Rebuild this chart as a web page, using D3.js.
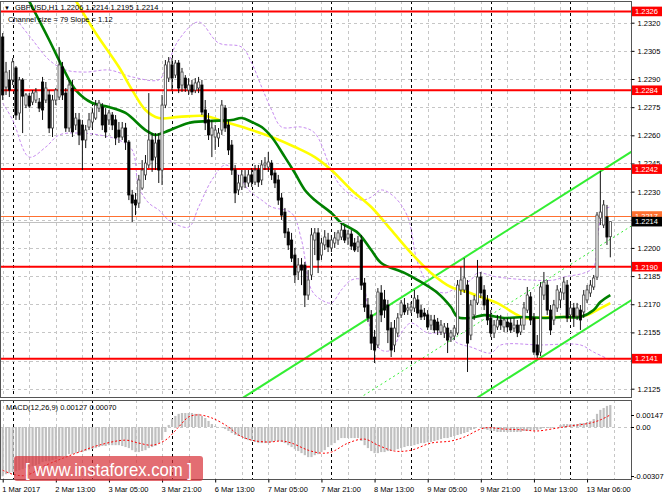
<!DOCTYPE html>
<html>
<head>
<meta charset="utf-8">
<script src="https://cdn.jsdelivr.net/npm/d3@7"></script>
<style>
  body { margin: 0; background: #fff; }
  svg { display: block; }
  text { font-family: "Liberation Sans", Arial, sans-serif; }
</style>
</head>
<body>
<svg id="chart" width="664" height="498"></svg>
<script>
// GBPUSD H1 candles, [open, high, low, close]
var candles = [
  [1.23124,1.23145,1.22788,1.22815],[1.22857,1.22991,1.22815,1.22937],[1.22895,1.22948,1.22804,1.22841],[1.22895,1.23012,1.22868,1.22991],
  [1.22959,1.22969,1.22682,1.22708],[1.22719,1.22911,1.22682,1.22895],[1.22895,1.22905,1.22612,1.22809],[1.22761,1.22825,1.22745,1.22815],
  [1.22809,1.22825,1.22745,1.22756],[1.22777,1.22841,1.22761,1.22825],[1.22788,1.22852,1.22772,1.22831],[1.22777,1.22799,1.22724,1.22745],
  [1.22884,1.22911,1.22682,1.22735],[1.22788,1.22884,1.22772,1.22852],[1.22815,1.22841,1.22612,1.22639],[1.22639,1.22815,1.22591,1.22788],
  [1.22788,1.22852,1.22761,1.22841],[1.22804,1.23070,1.22788,1.22975],[1.22964,1.22991,1.22788,1.22815],[1.22825,1.22852,1.22618,1.22639],
  [1.22639,1.22895,1.22618,1.22868],[1.22852,1.22895,1.22591,1.22618],[1.22655,1.22719,1.22628,1.22692],[1.22682,1.22719,1.22548,1.22602],
  [1.22655,1.22682,1.22415,1.22575],[1.22575,1.22655,1.22532,1.22628],[1.22644,1.22719,1.22628,1.22682],[1.22671,1.22745,1.22639,1.22719],
  [1.22692,1.22788,1.22682,1.22761],[1.22745,1.22788,1.22724,1.22772],[1.22751,1.22772,1.22628,1.22655],[1.22708,1.22745,1.22586,1.22618],
  [1.22682,1.22735,1.22655,1.22719],[1.22708,1.22724,1.22628,1.22655],[1.22682,1.22708,1.22548,1.22586],[1.22628,1.22671,1.22559,1.22591],
  [1.22591,1.22671,1.22575,1.22639],[1.22639,1.22666,1.22522,1.22564],[1.22564,1.22575,1.22255,1.22282],[1.22282,1.22309,1.22138,1.22239],
  [1.22255,1.22293,1.22175,1.22229],[1.22239,1.22389,1.22213,1.22362],[1.22319,1.22468,1.22309,1.22415],[1.22389,1.22495,1.22362,1.22452],
  [1.22442,1.22825,1.22426,1.22575],[1.22575,1.22612,1.22405,1.22468],[1.22484,1.22612,1.22415,1.22559],[1.22575,1.22612,1.22346,1.22415],
  [1.22415,1.22815,1.22335,1.22761],[1.22761,1.23001,1.22745,1.22975],[1.22905,1.23017,1.22884,1.22991],[1.22975,1.23012,1.22841,1.22905],
  [1.22921,1.23001,1.22905,1.22985],[1.22985,1.23001,1.22825,1.22852],[1.22868,1.22959,1.22831,1.22937],[1.22905,1.22921,1.22831,1.22852],
  [1.22841,1.22905,1.22815,1.22868],[1.22868,1.22895,1.22815,1.22831],[1.22841,1.22905,1.22825,1.22879],[1.22852,1.22911,1.22825,1.22884],
  [1.22868,1.22895,1.22708,1.22724],[1.22735,1.22788,1.22628,1.22666],[1.22682,1.22719,1.22575,1.22602],[1.22602,1.22682,1.22484,1.22639],
  [1.22591,1.22655,1.22522,1.22628],[1.22586,1.22639,1.22538,1.22612],[1.22628,1.22788,1.22602,1.22761],[1.22745,1.22761,1.22618,1.22639],
  [1.22655,1.22682,1.22495,1.22522],[1.22548,1.22575,1.22389,1.22415],[1.22415,1.22442,1.22239,1.22293],[1.22309,1.22389,1.22282,1.22346],
  [1.22325,1.22415,1.22309,1.22389],[1.22378,1.22415,1.22319,1.22351],[1.22346,1.22415,1.22325,1.22389],[1.22389,1.22426,1.22325,1.22351],
  [1.22351,1.22442,1.22335,1.22415],[1.22415,1.22442,1.22325,1.22351],[1.22362,1.22468,1.22335,1.22442],[1.22442,1.22484,1.22415,1.22452],
  [1.22431,1.22511,1.22405,1.22458],[1.22452,1.22468,1.22362,1.22389],[1.22399,1.22415,1.22319,1.22346],[1.22362,1.22389,1.22229,1.22255],
  [1.22266,1.22293,1.22149,1.22175],[1.22191,1.22213,1.22053,1.22080],[1.22085,1.22106,1.21989,1.22016],[1.22042,1.22080,1.21925,1.21946],
  [1.21962,1.22000,1.21813,1.21856],[1.21872,1.21946,1.21829,1.21909],[1.21909,1.21946,1.21802,1.21882],[1.21909,1.21925,1.21685,1.21749],
  [1.21749,1.21882,1.21723,1.21829],[1.21856,1.22106,1.21829,1.22069],[1.22042,1.22106,1.21962,1.22080],[1.22080,1.22106,1.21866,1.21936],
  [1.21962,1.22053,1.21936,1.22026],[1.22016,1.22095,1.21989,1.22058],[1.22042,1.22080,1.21978,1.22005],[1.22000,1.22069,1.21978,1.22042],
  [1.22026,1.22085,1.22000,1.22053],[1.22042,1.22095,1.22016,1.22080],[1.22058,1.22133,1.22042,1.22095],[1.22095,1.22122,1.22026,1.22042],
  [1.22053,1.22095,1.22016,1.22074],[1.22074,1.22095,1.21989,1.22010],[1.22026,1.22053,1.21978,1.21989],[1.22005,1.22064,1.21978,1.22032],
  [1.22042,1.22069,1.21776,1.21802],[1.21813,1.21840,1.21659,1.21685],[1.21696,1.21733,1.21605,1.21627],[1.21643,1.21669,1.21456,1.21493],
  [1.21525,1.21563,1.21387,1.21456],[1.21483,1.21786,1.21467,1.21765],[1.21760,1.21802,1.21605,1.21643],[1.21723,1.21776,1.21627,1.21669],
  [1.21696,1.21723,1.21493,1.21563],[1.21573,1.21605,1.21419,1.21456],[1.21483,1.21616,1.21445,1.21573],[1.21547,1.21653,1.21525,1.21627],
  [1.21643,1.21723,1.21627,1.21707],[1.21696,1.21733,1.21643,1.21659],[1.21669,1.21707,1.21643,1.21680],[1.21669,1.21712,1.21653,1.21685],
  [1.21680,1.21776,1.21659,1.21733],[1.21723,1.21749,1.21627,1.21653],[1.21669,1.21696,1.21616,1.21632],[1.21653,1.21680,1.21616,1.21637],
  [1.21643,1.21669,1.21563,1.21579],[1.21589,1.21643,1.21563,1.21616],[1.21616,1.21643,1.21547,1.21563],[1.21605,1.21627,1.21536,1.21563],
  [1.21552,1.21616,1.21536,1.21589],[1.21547,1.21600,1.21520,1.21579],[1.21573,1.21600,1.21440,1.21509],[1.21525,1.21563,1.21499,1.21547],
  [1.21531,1.21589,1.21509,1.21573],[1.21547,1.21829,1.21536,1.21802],[1.21776,1.21898,1.21749,1.21829],[1.21776,1.21946,1.21760,1.21840],
  [1.21802,1.21829,1.21339,1.21493],[1.21536,1.21723,1.21509,1.21696],[1.21643,1.21749,1.21616,1.21723],[1.21707,1.21936,1.21696,1.21845],
  [1.21845,1.21872,1.21733,1.21760],[1.21776,1.21802,1.21669,1.21696],[1.21723,1.21749,1.21589,1.21616],[1.21627,1.21669,1.21525,1.21547],
  [1.21547,1.21616,1.21520,1.21589],[1.21579,1.21643,1.21563,1.21616],[1.21616,1.21643,1.21563,1.21589],[1.21579,1.21627,1.21552,1.21616],
  [1.21605,1.21627,1.21552,1.21579],[1.21600,1.21627,1.21547,1.21563],[1.21573,1.21627,1.21552,1.21589],[1.21589,1.21616,1.21525,1.21547],
  [1.21552,1.21627,1.21536,1.21589],[1.21589,1.21712,1.21563,1.21680],[1.21669,1.21792,1.21653,1.21749],[1.21739,1.21765,1.21589,1.21616],
  [1.21627,1.21653,1.21430,1.21445],[1.21483,1.21536,1.21414,1.21430],[1.21445,1.21818,1.21424,1.21792],[1.21749,1.21872,1.21723,1.21818],
  [1.21802,1.21829,1.21643,1.21669],[1.21669,1.21696,1.21536,1.21563],[1.21616,1.21723,1.21589,1.21696],[1.21680,1.21802,1.21659,1.21776],
  [1.21723,1.21786,1.21680,1.21765],[1.21760,1.21845,1.21723,1.21818],[1.21802,1.21829,1.21605,1.21627],[1.21643,1.21707,1.21616,1.21680],
  [1.21680,1.21707,1.21579,1.21632],[1.21637,1.21707,1.21616,1.21680],[1.21669,1.21696,1.21563,1.21616],[1.21659,1.21776,1.21627,1.21749],
  [1.21723,1.21802,1.21707,1.21776],[1.21760,1.21829,1.21739,1.21802],[1.21792,1.21856,1.21776,1.21840],[1.21845,1.22191,1.21829,1.22175],
  [1.22159,1.22410,1.22122,1.22191],[1.22122,1.22255,1.22106,1.22229],[1.22165,1.22229,1.22016,1.22058],[1.22060,1.22140,1.21950,1.22140]
];

// MACD(12,26,9) histogram, one value per candle
var macdHist = [
  -0.00285,-0.00273,-0.00267,-0.00261,-0.00256,-0.00250,-0.00244,-0.00238,-0.00232,-0.00227,-0.00221,-0.00215,
  -0.00203,-0.00198,-0.00198,-0.00192,-0.00186,-0.00174,-0.00168,-0.00168,-0.00157,-0.00157,-0.00151,-0.00145,
  -0.00145,-0.00139,-0.00134,-0.00128,-0.00122,-0.00116,-0.00110,-0.00110,-0.00105,-0.00105,-0.00105,-0.00105,
  -0.00110,-0.00116,-0.00122,-0.00134,-0.00145,-0.00145,-0.00139,-0.00134,-0.00122,-0.00116,-0.00110,-0.00093,
  -0.00076,-0.00029,0.00012,0.00046,0.00064,0.00076,0.00081,0.00081,0.00081,0.00081,0.00076,0.00076,
  0.00064,0.00052,0.00035,0.00017,0.00006,0.00000,-0.00003,-0.00012,-0.00023,-0.00035,-0.00046,-0.00052,
  -0.00058,-0.00070,-0.00076,-0.00081,-0.00087,-0.00093,-0.00093,-0.00093,-0.00093,-0.00087,-0.00081,-0.00081,
  -0.00087,-0.00093,-0.00105,-0.00116,-0.00128,-0.00139,-0.00151,-0.00163,-0.00174,-0.00174,-0.00163,-0.00157,
  -0.00145,-0.00134,-0.00116,-0.00105,-0.00093,-0.00076,-0.00064,-0.00064,-0.00064,-0.00064,-0.00064,-0.00064,
  -0.00081,-0.00105,-0.00122,-0.00139,-0.00151,-0.00151,-0.00145,-0.00145,-0.00139,-0.00139,-0.00134,-0.00128,
  -0.00122,-0.00116,-0.00110,-0.00110,-0.00105,-0.00099,-0.00093,-0.00093,-0.00087,-0.00087,-0.00081,-0.00076,
  -0.00070,-0.00064,-0.00064,-0.00058,-0.00052,-0.00046,-0.00041,-0.00035,-0.00029,-0.00017,-0.00012,0.00000,
  -0.00006,-0.00012,-0.00017,-0.00023,-0.00023,-0.00029,-0.00029,-0.00029,-0.00029,-0.00029,-0.00029,-0.00029,
  -0.00029,-0.00023,-0.00023,-0.00017,-0.00017,-0.00017,-0.00012,-0.00006,-0.00006,-0.00006,0.00000,0.00000,
  0.00012,0.00017,0.00017,0.00017,0.00017,0.00017,0.00023,0.00023,0.00029,0.00035,0.00046,0.00076,
  0.00099,0.00110,0.00122,0.00127
];

// MACD signal line, read at these candle indices
var signalIdx = [0,3,7,13,19,23,29,37,41,45,49,53,56,59,63,68,71,75,80,84,87,92,96,99,104,109,113,118,123,129,135,139,145,151,157,161,167,171,177,180,183];
var signalVal = [-0.00250,-0.00273,-0.00280,-0.00221,-0.00174,-0.00145,-0.00105,-0.00076,-0.00093,-0.00105,-0.00076,0.00000,0.00058,0.00070,0.00052,0.00000,-0.00046,-0.00076,-0.00087,-0.00081,-0.00093,-0.00134,-0.00151,-0.00145,-0.00093,-0.00070,-0.00105,-0.00139,-0.00134,-0.00093,-0.00081,-0.00058,-0.00006,-0.00012,-0.00017,-0.00023,-0.00006,0.00006,0.00023,0.00041,0.00070];

// yellow and green moving averages, read at these candle indices
var yellowIdx = [21,28,35,39,43,47,53,61,67,75,81,88,94,99,105,111,117,123,129,135,140,144,149,154,157,160,166,172,176,179,183];
var yellowVal = [1.23348,1.23145,1.22964,1.22841,1.22735,1.22692,1.22698,1.22703,1.22671,1.22628,1.22591,1.22538,1.22484,1.22415,1.22309,1.22218,1.22096,1.21973,1.21867,1.21792,1.21765,1.21738,1.21706,1.21653,1.21627,1.21627,1.21632,1.21632,1.21642,1.21669,1.21706];
var greenIdx = [7,14,18,22,27,32,37,43,46,49,56,62,69,72,75,78,81,85,88,91,94,99,102,107,111,114,121,125,131,135,137,141,145,151,157,163,169,174,178,180,183];
var greenVal = [1.23348,1.23108,1.22964,1.22841,1.22772,1.22751,1.22719,1.22628,1.22602,1.22618,1.22666,1.22676,1.22682,1.22692,1.22671,1.22644,1.22591,1.22484,1.22399,1.22309,1.22255,1.22186,1.22133,1.22080,1.21989,1.21920,1.21867,1.21829,1.21760,1.21685,1.21632,1.21627,1.21642,1.21627,1.21632,1.21627,1.21632,1.21632,1.21669,1.21712,1.21749];

// purple bands
var bandUpIdx = [5,9,14,19,25,32,39,47,49,53,59,65,72,75,78,81,84,90,94,99,102,108,111,114,118,122,125,129,133,137,141,143,149,159,166,169,175,178,179,181,183];
var bandUpVal = [1.23198,1.23108,1.23001,1.22948,1.22937,1.22948,1.22911,1.22895,1.22948,1.23108,1.23204,1.23092,1.23070,1.22985,1.22857,1.22735,1.22644,1.22644,1.22612,1.22415,1.22325,1.22255,1.22271,1.22309,1.22271,1.22165,1.21920,1.21792,1.21760,1.21792,1.21829,1.21866,1.21845,1.21829,1.21829,1.21845,1.21866,1.21898,1.22042,1.22202,1.22218];
var bandLoIdx = [0,3,8,13,17,23,29,35,39,41,44,47,50,56,59,63,67,71,74,78,81,87,90,93,96,99,102,105,108,111,114,117,120,123,128,133,137,141,147,150,162,174,178,183];
var bandLoVal = [1.22772,1.22682,1.22484,1.22538,1.22602,1.22612,1.22602,1.22575,1.22522,1.22325,1.22239,1.22202,1.22149,1.22111,1.22218,1.22362,1.22442,1.22389,1.22309,1.22255,1.22218,1.22186,1.22042,1.21776,1.21723,1.21707,1.21776,1.21829,1.21829,1.21547,1.21456,1.21456,1.21547,1.21600,1.21547,1.21547,1.21493,1.21472,1.21440,1.21483,1.21483,1.21483,1.21445,1.21403];

// regression channel: upper line value at anchor candle, slope per candle, width
var channelAnchor = 183, channelUpper = 1.22441, channelSlope = 0.000112, channelSize = 0.0079;

var levels = [1.2326, 1.2284, 1.2242, 1.2190, 1.2141];
var askPrice = 1.2217, bidPrice = 1.2214;
var priceTicks = [1.2320, 1.2305, 1.2290, 1.2275, 1.2260, 1.2245, 1.2230, 1.2215, 1.2200, 1.2185, 1.2170, 1.2155, 1.2140, 1.2125];
var timeIdx = [0, 16, 32, 48, 64, 80, 96, 112, 128, 144, 160, 176];
var timeLabels = ["1 Mar 2017", "2 Mar 13:00", "3 Mar 05:00", "3 Mar 21:00", "6 Mar 13:00", "7 Mar 05:00",
                  "7 Mar 21:00", "8 Mar 13:00", "9 Mar 05:00", "9 Mar 21:00", "10 Mar 13:00", "13 Mar 06:00"];
var daySepIdx = [3, 27, 51, 75, 99, 123, 147, 171];
var macdLabels = ["0.00147", "0.00", "-0.00307"];

// layout
var plotRight = 631, mainTop = 1, mainBottom = 397, macdTop = 400, macdBottom = 479;
var svg = d3.select("#chart");

var x = d3.scaleLinear().domain([0, 183]).range([2.7, 610.3]);
var y = d3.scaleLinear().domain([1.2125, 1.2320]).range([388.7, 22.7]);
var ym = d3.scaleLinear().domain([0, 0.001]).range([427, 409.7]);

var defs = svg.append("defs");
defs.append("clipPath").attr("id", "clipMain").append("rect")
  .attr("x", 1).attr("y", mainTop + 1).attr("width", plotRight - 1).attr("height", mainBottom - mainTop - 1);
defs.append("clipPath").attr("id", "clipMacd").append("rect")
  .attr("x", 1).attr("y", macdTop + 1).attr("width", plotRight - 1).attr("height", macdBottom - macdTop - 1);

var main = svg.append("g").attr("clip-path", "url(#clipMain)");
var macd = svg.append("g").attr("clip-path", "url(#clipMacd)");

// grid
var gridIdx = d3.range(0, 192, 8);
[main, macd].forEach(function(g, k) {
  var top = k ? macdTop : mainTop, bot = k ? macdBottom : mainBottom;
  g.selectAll(".vgrid").data(gridIdx).enter().append("line")
    .attr("x1", function(d) { return Math.round(x(d)) + 0.5; })
    .attr("x2", function(d) { return Math.round(x(d)) + 0.5; })
    .attr("y1", top).attr("y2", bot)
    .attr("stroke", "#c6c6c6").attr("stroke-dasharray", "3,3");
  g.selectAll(".dsep").data(daySepIdx).enter().append("line")
    .attr("x1", function(d) { return Math.round(x(d)) + 0.5; })
    .attr("x2", function(d) { return Math.round(x(d)) + 0.5; })
    .attr("y1", top).attr("y2", bot)
    .attr("stroke", "#000").attr("stroke-dasharray", "3,3");
});
main.selectAll(".hgrid").data(priceTicks).enter().append("line")
  .attr("x1", 0).attr("x2", plotRight)
  .attr("y1", function(d) { return Math.round(y(d)) + 0.5; })
  .attr("y2", function(d) { return Math.round(y(d)) + 0.5; })
  .attr("stroke", "#c6c6c6").attr("stroke-dasharray", "3,3");
macd.append("line").attr("x1", 0).attr("x2", plotRight)
  .attr("y1", ym(0) + 0.5).attr("y2", ym(0) + 0.5)
  .attr("stroke", "#c6c6c6").attr("stroke-dasharray", "3,3");

// bands (purple dashed)
var curve = function(idx, vals, sy) {
  return d3.line().x(function(d) { return x(d); })
    .y(function(d, i) { return sy(vals[i]); })
    .curve(d3.curveCatmullRom.alpha(0.5))(idx);
};
[[bandUpIdx, bandUpVal], [bandLoIdx, bandLoVal]].forEach(function(b) {
  main.append("path").attr("d", curve(b[0], b[1], y))
    .attr("fill", "none").attr("stroke", "#c78cf0").attr("stroke-width", 1).attr("stroke-dasharray", "3,2");
});

// channel lines
var chFrom = 40, chTo = 200;
function chLine(offset) {
  return [[chFrom, channelUpper - offset - channelSlope * (channelAnchor - chFrom)],
          [chTo, channelUpper - offset + channelSlope * (chTo - channelAnchor)]];
}
var lineXY = d3.line().x(function(d) { return x(d[0]); }).y(function(d) { return y(d[1]); });
main.append("path").attr("d", lineXY(chLine(0))).attr("stroke", "#33ee33").attr("stroke-width", 2).attr("fill", "none");
main.append("path").attr("d", lineXY(chLine(channelSize))).attr("stroke", "#33ee33").attr("stroke-width", 2).attr("fill", "none");
main.append("path").attr("d", lineXY(chLine(channelSize / 2))).attr("stroke", "#33ee33").attr("stroke-width", 1)
  .attr("stroke-dasharray", "2,3").attr("fill", "none");

// moving averages
main.append("path").attr("d", curve(yellowIdx, yellowVal, y))
  .attr("fill", "none").attr("stroke", "#ffff00").attr("stroke-width", 2.6);
main.append("path").attr("d", curve(greenIdx, greenVal, y))
  .attr("fill", "none").attr("stroke", "#008000").attr("stroke-width", 2.6);

// horizontal levels
main.selectAll(".lvl").data(levels).enter().append("line")
  .attr("x1", 0).attr("x2", plotRight)
  .attr("y1", function(d) { return y(d); }).attr("y2", function(d) { return y(d); })
  .attr("stroke", "#ff0000").attr("stroke-width", 2);
main.append("line").attr("x1", 0).attr("x2", plotRight)
  .attr("y1", Math.round(y(askPrice)) + 0.5).attr("y2", Math.round(y(askPrice)) + 0.5)
  .attr("stroke", "#ff7030").attr("stroke-width", 1);
main.append("line").attr("x1", 0).attr("x2", plotRight)
  .attr("y1", Math.round(y(bidPrice)) + 0.5).attr("y2", Math.round(y(bidPrice)) + 0.5)
  .attr("stroke", "#c0c0c0").attr("stroke-width", 1);

// candles
var bw = 2.2;
var cg = main.selectAll(".candle").data(candles).enter().append("g");
cg.append("line")
  .attr("x1", function(d, i) { return x(i); }).attr("x2", function(d, i) { return x(i); })
  .attr("y1", function(d) { return y(d[1]); }).attr("y2", function(d) { return y(d[2]); })
  .attr("stroke", "#111").attr("stroke-width", 1);
cg.append("rect")
  .attr("x", function(d, i) { return x(i) - bw / 2; })
  .attr("y", function(d) { return y(Math.max(d[0], d[3])); })
  .attr("width", bw)
  .attr("height", function(d) { return Math.max(0.8, Math.abs(y(d[0]) - y(d[3]))); })
  .attr("fill", function(d) { return d[3] >= d[0] ? "#fff" : "#000"; })
  .attr("stroke", function(d) { return d[3] >= d[0] ? "#444" : "#000"; })
  .attr("stroke-width", 0.8);

// MACD histogram and signal
macd.selectAll(".hb").data(macdHist).enter().append("rect")
  .attr("x", function(d, i) { return x(i) - 1.1; })
  .attr("width", 2.2)
  .attr("y", function(d) { return Math.min(ym(d), ym(0)); })
  .attr("height", function(d) { return Math.abs(ym(d) - ym(0)); })
  .attr("fill", "#c0c0c0");
macd.append("path").attr("d", curve(signalIdx, signalVal, ym))
  .attr("fill", "none").attr("stroke", "#ff0000").attr("stroke-width", 1).attr("stroke-dasharray", "2,2");

// panel borders
svg.append("rect").attr("x", 0.5).attr("y", mainTop + 0.5).attr("width", plotRight).attr("height", mainBottom - mainTop)
  .attr("fill", "none").attr("stroke", "#555");
svg.append("rect").attr("x", 0.5).attr("y", macdTop + 0.5).attr("width", plotRight).attr("height", macdBottom - macdTop)
  .attr("fill", "none").attr("stroke", "#555");

// price axis; labels sitting under a level box are hidden, as in the terminal
var boxed = levels.concat([askPrice, bidPrice]);
function underBox(d) {
  return boxed.some(function(p) { return Math.abs(y(p) - y(d)) < 3.5; });
}
var yAxis = d3.axisRight(y).tickValues(priceTicks)
  .tickFormat(function(d) { return underBox(d) ? "" : d3.format(".4f")(d); })
  .tickSize(3).tickPadding(3);
var ya = svg.append("g").attr("transform", "translate(" + (plotRight + 0.5) + ",0)").call(yAxis);
ya.select(".domain").remove();
ya.selectAll("text").attr("font-size", 7.5).attr("fill", "#000").attr("font-family", "Liberation Sans, Arial, sans-serif");
ya.selectAll("line").attr("stroke", "#000");

// level boxes
function priceBox(p, fill, txtFill) {
  var g = svg.append("g").attr("transform", "translate(" + (plotRight + 1) + "," + y(p) + ")");
  g.append("rect").attr("x", 0).attr("y", -4.8).attr("width", 30).attr("height", 9.6).attr("fill", fill);
  g.append("text").attr("x", 3).attr("y", 2.8).attr("font-size", 7.5).attr("fill", txtFill).text(p.toFixed(4));
}
levels.forEach(function(p) { priceBox(p, "#ff0000", "#fff"); });
priceBox(askPrice, "#ff7030", "#fff");
priceBox(bidPrice, "#000", "#fff");

// MACD axis labels
var macdLabelY = [415, 427, 476];
svg.selectAll(".ml").data(macdLabels).enter().append("text")
  .attr("x", function(d) { return d[0] === "-" ? 634 : 636; })
  .attr("y", function(d, i) { return macdLabelY[i] + 2.7; })
  .attr("font-size", 7.5).text(function(d) { return d; });
svg.selectAll(".mt").data(macdLabelY).enter().append("line")
  .attr("x1", plotRight).attr("x2", plotRight + 3)
  .attr("y1", function(d) { return d + 0.5; }).attr("y2", function(d) { return d + 0.5; })
  .attr("stroke", "#000");

// time axis
var xAxis = d3.axisBottom(x).tickValues(timeIdx).tickFormat(function(d, i) { return timeLabels[i]; }).tickSize(3);
var xa = svg.append("g").attr("transform", "translate(0," + (macdBottom + 0.5) + ")").call(xAxis);
xa.select(".domain").remove();
xa.selectAll("text").attr("font-size", 7.5).attr("fill", "#000").attr("text-anchor", "start")
  .attr("dx", -1).attr("dy", "0.9em").attr("font-family", "Liberation Sans, Arial, sans-serif");
xa.selectAll("line").attr("stroke", "#000");

// header texts
svg.append("text").attr("x", 4).attr("y", 9.5).attr("font-size", 6).text("\u25BC");
svg.append("text").attr("x", 15).attr("y", 10).attr("font-size", 7.5)
  .text("GBPUSD,H1  1.2206 1.2214 1.2195 1.2214");
svg.append("text").attr("x", 8).attr("y", 21.5).attr("font-size", 7.5)
  .text("Channel size = 79 Slope = 1.12");
svg.append("text").attr("x", 6).attr("y", 409.5).attr("font-size", 7.5)
  .text("MACD(12,26,9) 0.00127 0.00070");

// watermark
var wm = svg.append("g");
wm.append("rect").attr("x", 14).attr("y", 456).attr("width", 189).attr("height", 25).attr("rx", 3)
  .attr("fill", "#d8343c").attr("opacity", 0.72);
wm.append("text").attr("x", 25).attr("y", 476).attr("font-size", 19).attr("fill", "#fff")
  .attr("textLength", 167).attr("lengthAdjust", "spacingAndGlyphs")
  .text("[ www.instaforex.com ]");
</script>
</body>
</html>
